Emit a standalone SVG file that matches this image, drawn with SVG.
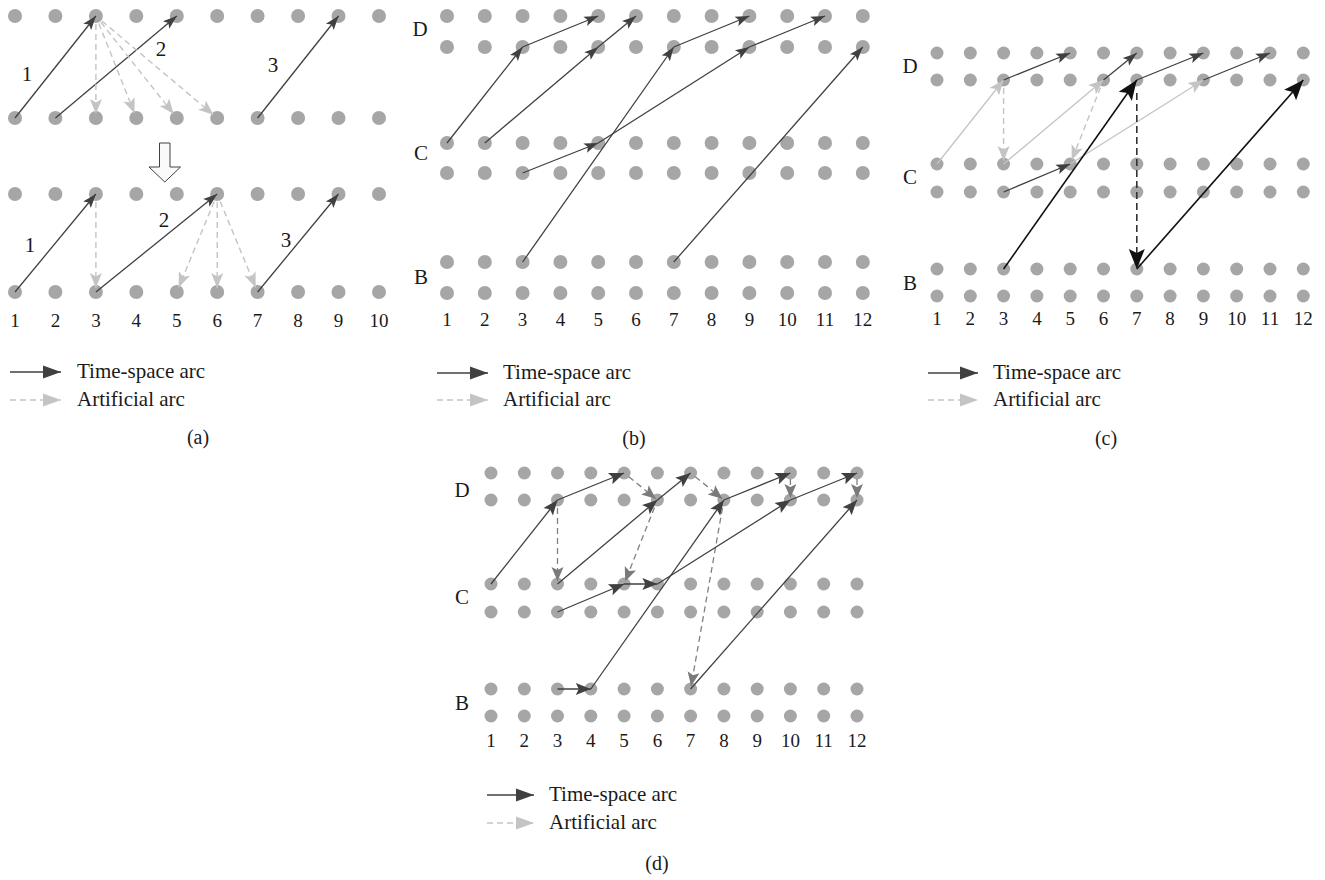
<svg xmlns="http://www.w3.org/2000/svg" width="1325" height="880" viewBox="0 0 1325 880">
<style>
text{font-family:"Liberation Serif","Times New Roman",serif;fill:#1a1a1a}
.num{font-size:19px;text-anchor:middle}
.lab{font-size:21px;text-anchor:middle}
.leg{font-size:21px}
.cap{font-size:20px;text-anchor:middle}
.dot{fill:#a6a6a6}
.ts{stroke:#404040;stroke-width:1.3;fill:none}
.lt{stroke:#c4c4c4;stroke-width:1.3;fill:none}
.ad{stroke:#c4c4c4;stroke-width:1.4;stroke-dasharray:6 4;fill:none}
.md{stroke:#808080;stroke-width:1.3;stroke-dasharray:6 4;fill:none}
.bk{stroke:#111;stroke-width:1.6;fill:none}
.bkd{stroke:#333;stroke-width:1.6;stroke-dasharray:7 4;fill:none}
</style>
<defs>
<marker id="mD" markerUnits="userSpaceOnUse" markerWidth="15" markerHeight="11" refX="14" refY="5" orient="auto" overflow="visible"><path d="M0,0 L14,5 L0,10 L3,5 z" fill="#404040"/></marker>
<marker id="mDd" markerUnits="userSpaceOnUse" markerWidth="16" markerHeight="13" refX="15" refY="6" orient="auto" overflow="visible"><path d="M0,0 L15,6 L0,12 L3,6 z" fill="#404040"/></marker>
<marker id="mL" markerUnits="userSpaceOnUse" markerWidth="16" markerHeight="13" refX="15" refY="6" orient="auto" overflow="visible"><path d="M0,0 L15,6 L0,12 L3.5,6 z" fill="#c4c4c4"/></marker>
<marker id="mK" markerUnits="userSpaceOnUse" markerWidth="21" markerHeight="17" refX="20" refY="8" orient="auto" overflow="visible"><path d="M0,0 L20,8 L0,16 L4,8 z" fill="#111"/></marker>
<marker id="mM" markerUnits="userSpaceOnUse" markerWidth="15" markerHeight="13" refX="14" refY="6" orient="auto" overflow="visible"><path d="M0,0 L14,6 L0,12 L3,6 z" fill="#7a7a7a"/></marker>
<marker id="mLegD" markerUnits="userSpaceOnUse" markerWidth="19" markerHeight="14" refX="18" refY="6.5" orient="auto" overflow="visible"><path d="M0,0 L18,6.5 L0,13 z" fill="#404040"/></marker>
<marker id="mLegL" markerUnits="userSpaceOnUse" markerWidth="19" markerHeight="14" refX="18" refY="6.5" orient="auto" overflow="visible"><path d="M0,0 L18,6.5 L0,13 z" fill="#c4c4c4"/></marker>
</defs>

<!-- ================= Panel (a) ================= -->
<g id="panel-a">
<g id="a-nodes-top1" class="dot">
<circle cx="15" cy="16" r="7"/><circle cx="55.4" cy="16" r="7"/><circle cx="95.9" cy="16" r="7"/><circle cx="136.3" cy="16" r="7"/><circle cx="176.8" cy="16" r="7"/><circle cx="217.2" cy="16" r="7"/><circle cx="257.6" cy="16" r="7"/><circle cx="298.1" cy="16" r="7"/><circle cx="338.5" cy="16" r="7"/><circle cx="379" cy="16" r="7"/>
</g>
<g id="a-nodes-bot1" class="dot">
<circle cx="15" cy="118" r="7"/><circle cx="55.4" cy="118" r="7"/><circle cx="95.9" cy="118" r="7"/><circle cx="136.3" cy="118" r="7"/><circle cx="176.8" cy="118" r="7"/><circle cx="217.2" cy="118" r="7"/><circle cx="257.6" cy="118" r="7"/><circle cx="298.1" cy="118" r="7"/><circle cx="338.5" cy="118" r="7"/><circle cx="379" cy="118" r="7"/>
</g>
<g id="a-nodes-top2" class="dot">
<circle cx="15" cy="194" r="7"/><circle cx="55.4" cy="194" r="7"/><circle cx="95.9" cy="194" r="7"/><circle cx="136.3" cy="194" r="7"/><circle cx="176.8" cy="194" r="7"/><circle cx="217.2" cy="194" r="7"/><circle cx="257.6" cy="194" r="7"/><circle cx="298.1" cy="194" r="7"/><circle cx="338.5" cy="194" r="7"/><circle cx="379" cy="194" r="7"/>
</g>
<g id="a-nodes-bot2" class="dot">
<circle cx="15" cy="292" r="7"/><circle cx="55.4" cy="292" r="7"/><circle cx="95.9" cy="292" r="7"/><circle cx="136.3" cy="292" r="7"/><circle cx="176.8" cy="292" r="7"/><circle cx="217.2" cy="292" r="7"/><circle cx="257.6" cy="292" r="7"/><circle cx="298.1" cy="292" r="7"/><circle cx="338.5" cy="292" r="7"/><circle cx="379" cy="292" r="7"/>
</g>
<g id="a-transform-arrow">
<polygon points="159.5,143 170,143 170,167 180.5,167 164.8,182 149,167 159.5,167" fill="#fafafa" stroke="#404040" stroke-width="1"/>
</g>
<g id="a-labels">
<text class="lab" x="27" y="81">1</text><text class="lab" x="161" y="56">2</text><text class="lab" x="273" y="72">3</text>
<text class="lab" x="30" y="252">1</text><text class="lab" x="164" y="227">2</text><text class="lab" x="286" y="247">3</text>
<text class="num" x="15" y="327">1</text><text class="num" x="55.4" y="327">2</text><text class="num" x="95.9" y="327">3</text><text class="num" x="136.3" y="327">4</text><text class="num" x="176.8" y="327">5</text><text class="num" x="217.2" y="327">6</text><text class="num" x="257.6" y="327">7</text><text class="num" x="298.1" y="327">8</text><text class="num" x="338.5" y="327">9</text><text class="num" x="379" y="327">10</text>
</g>
</g>

<!-- ================= Panel (b) ================= -->
<g id="panel-b">
<g id="b-nodes" class="dot">
<g id="b-D1"><circle cx="447" cy="16" r="7"/><circle cx="484.8" cy="16" r="7"/><circle cx="522.6" cy="16" r="7"/><circle cx="560.4" cy="16" r="7"/><circle cx="598.2" cy="16" r="7"/><circle cx="636" cy="16" r="7"/><circle cx="673.8" cy="16" r="7"/><circle cx="711.6" cy="16" r="7"/><circle cx="749.4" cy="16" r="7"/><circle cx="787.2" cy="16" r="7"/><circle cx="825" cy="16" r="7"/><circle cx="862.8" cy="16" r="7"/></g>
<g id="b-D2"><circle cx="447" cy="47" r="7"/><circle cx="484.8" cy="47" r="7"/><circle cx="522.6" cy="47" r="7"/><circle cx="560.4" cy="47" r="7"/><circle cx="598.2" cy="47" r="7"/><circle cx="636" cy="47" r="7"/><circle cx="673.8" cy="47" r="7"/><circle cx="711.6" cy="47" r="7"/><circle cx="749.4" cy="47" r="7"/><circle cx="787.2" cy="47" r="7"/><circle cx="825" cy="47" r="7"/><circle cx="862.8" cy="47" r="7"/></g>
<g id="b-C1"><circle cx="447" cy="143" r="7"/><circle cx="484.8" cy="143" r="7"/><circle cx="522.6" cy="143" r="7"/><circle cx="560.4" cy="143" r="7"/><circle cx="598.2" cy="143" r="7"/><circle cx="636" cy="143" r="7"/><circle cx="673.8" cy="143" r="7"/><circle cx="711.6" cy="143" r="7"/><circle cx="749.4" cy="143" r="7"/><circle cx="787.2" cy="143" r="7"/><circle cx="825" cy="143" r="7"/><circle cx="862.8" cy="143" r="7"/></g>
<g id="b-C2"><circle cx="447" cy="173" r="7"/><circle cx="484.8" cy="173" r="7"/><circle cx="522.6" cy="173" r="7"/><circle cx="560.4" cy="173" r="7"/><circle cx="598.2" cy="173" r="7"/><circle cx="636" cy="173" r="7"/><circle cx="673.8" cy="173" r="7"/><circle cx="711.6" cy="173" r="7"/><circle cx="749.4" cy="173" r="7"/><circle cx="787.2" cy="173" r="7"/><circle cx="825" cy="173" r="7"/><circle cx="862.8" cy="173" r="7"/></g>
<g id="b-B1"><circle cx="447" cy="262" r="7"/><circle cx="484.8" cy="262" r="7"/><circle cx="522.6" cy="262" r="7"/><circle cx="560.4" cy="262" r="7"/><circle cx="598.2" cy="262" r="7"/><circle cx="636" cy="262" r="7"/><circle cx="673.8" cy="262" r="7"/><circle cx="711.6" cy="262" r="7"/><circle cx="749.4" cy="262" r="7"/><circle cx="787.2" cy="262" r="7"/><circle cx="825" cy="262" r="7"/><circle cx="862.8" cy="262" r="7"/></g>
<g id="b-B2"><circle cx="447" cy="293" r="7"/><circle cx="484.8" cy="293" r="7"/><circle cx="522.6" cy="293" r="7"/><circle cx="560.4" cy="293" r="7"/><circle cx="598.2" cy="293" r="7"/><circle cx="636" cy="293" r="7"/><circle cx="673.8" cy="293" r="7"/><circle cx="711.6" cy="293" r="7"/><circle cx="749.4" cy="293" r="7"/><circle cx="787.2" cy="293" r="7"/><circle cx="825" cy="293" r="7"/><circle cx="862.8" cy="293" r="7"/></g>
</g>
<g id="b-labels">
<text class="lab" x="420" y="36">D</text><text class="lab" x="421" y="160">C</text><text class="lab" x="421" y="284">B</text>
<text class="num" x="447" y="326">1</text><text class="num" x="484.8" y="326">2</text><text class="num" x="522.6" y="326">3</text><text class="num" x="560.4" y="326">4</text><text class="num" x="598.2" y="326">5</text><text class="num" x="636" y="326">6</text><text class="num" x="673.8" y="326">7</text><text class="num" x="711.6" y="326">8</text><text class="num" x="749.4" y="326">9</text><text class="num" x="787.2" y="326">10</text><text class="num" x="825" y="326">11</text><text class="num" x="862.8" y="326">12</text>
</g>
</g>

<!-- ================= Panel (c) ================= -->
<g id="panel-c">
<g id="c-nodes" class="dot">
<g id="c-D1"><circle cx="937" cy="53" r="6.5"/><circle cx="970.3" cy="53" r="6.5"/><circle cx="1003.6" cy="53" r="6.5"/><circle cx="1036.9" cy="53" r="6.5"/><circle cx="1070.2" cy="53" r="6.5"/><circle cx="1103.5" cy="53" r="6.5"/><circle cx="1136.8" cy="53" r="6.5"/><circle cx="1170.1" cy="53" r="6.5"/><circle cx="1203.4" cy="53" r="6.5"/><circle cx="1236.7" cy="53" r="6.5"/><circle cx="1270" cy="53" r="6.5"/><circle cx="1303.3" cy="53" r="6.5"/></g>
<g id="c-D2"><circle cx="937" cy="80" r="6.5"/><circle cx="970.3" cy="80" r="6.5"/><circle cx="1003.6" cy="80" r="6.5"/><circle cx="1036.9" cy="80" r="6.5"/><circle cx="1070.2" cy="80" r="6.5"/><circle cx="1103.5" cy="80" r="6.5"/><circle cx="1136.8" cy="80" r="6.5"/><circle cx="1170.1" cy="80" r="6.5"/><circle cx="1203.4" cy="80" r="6.5"/><circle cx="1236.7" cy="80" r="6.5"/><circle cx="1270" cy="80" r="6.5"/><circle cx="1303.3" cy="80" r="6.5"/></g>
<g id="c-C1"><circle cx="937" cy="164" r="6.5"/><circle cx="970.3" cy="164" r="6.5"/><circle cx="1003.6" cy="164" r="6.5"/><circle cx="1036.9" cy="164" r="6.5"/><circle cx="1070.2" cy="164" r="6.5"/><circle cx="1103.5" cy="164" r="6.5"/><circle cx="1136.8" cy="164" r="6.5"/><circle cx="1170.1" cy="164" r="6.5"/><circle cx="1203.4" cy="164" r="6.5"/><circle cx="1236.7" cy="164" r="6.5"/><circle cx="1270" cy="164" r="6.5"/><circle cx="1303.3" cy="164" r="6.5"/></g>
<g id="c-C2"><circle cx="937" cy="192" r="6.5"/><circle cx="970.3" cy="192" r="6.5"/><circle cx="1003.6" cy="192" r="6.5"/><circle cx="1036.9" cy="192" r="6.5"/><circle cx="1070.2" cy="192" r="6.5"/><circle cx="1103.5" cy="192" r="6.5"/><circle cx="1136.8" cy="192" r="6.5"/><circle cx="1170.1" cy="192" r="6.5"/><circle cx="1203.4" cy="192" r="6.5"/><circle cx="1236.7" cy="192" r="6.5"/><circle cx="1270" cy="192" r="6.5"/><circle cx="1303.3" cy="192" r="6.5"/></g>
<g id="c-B1"><circle cx="937" cy="269" r="6.5"/><circle cx="970.3" cy="269" r="6.5"/><circle cx="1003.6" cy="269" r="6.5"/><circle cx="1036.9" cy="269" r="6.5"/><circle cx="1070.2" cy="269" r="6.5"/><circle cx="1103.5" cy="269" r="6.5"/><circle cx="1136.8" cy="269" r="6.5"/><circle cx="1170.1" cy="269" r="6.5"/><circle cx="1203.4" cy="269" r="6.5"/><circle cx="1236.7" cy="269" r="6.5"/><circle cx="1270" cy="269" r="6.5"/><circle cx="1303.3" cy="269" r="6.5"/></g>
<g id="c-B2"><circle cx="937" cy="296" r="6.5"/><circle cx="970.3" cy="296" r="6.5"/><circle cx="1003.6" cy="296" r="6.5"/><circle cx="1036.9" cy="296" r="6.5"/><circle cx="1070.2" cy="296" r="6.5"/><circle cx="1103.5" cy="296" r="6.5"/><circle cx="1136.8" cy="296" r="6.5"/><circle cx="1170.1" cy="296" r="6.5"/><circle cx="1203.4" cy="296" r="6.5"/><circle cx="1236.7" cy="296" r="6.5"/><circle cx="1270" cy="296" r="6.5"/><circle cx="1303.3" cy="296" r="6.5"/></g>
</g>
<g id="c-labels">
<text class="lab" x="910" y="73">D</text><text class="lab" x="910" y="184">C</text><text class="lab" x="910" y="290">B</text>
<text class="num" x="937" y="325">1</text><text class="num" x="970.3" y="325">2</text><text class="num" x="1003.6" y="325">3</text><text class="num" x="1036.9" y="325">4</text><text class="num" x="1070.2" y="325">5</text><text class="num" x="1103.5" y="325">6</text><text class="num" x="1136.8" y="325">7</text><text class="num" x="1170.1" y="325">8</text><text class="num" x="1203.4" y="325">9</text><text class="num" x="1236.7" y="325">10</text><text class="num" x="1270" y="325">11</text><text class="num" x="1303.3" y="325">12</text>
</g>
</g>

<!-- ================= Panel (d) ================= -->
<g id="panel-d">
<g id="d-nodes" class="dot">
<g id="d-D1"><circle cx="491" cy="473" r="6.5"/><circle cx="524.3" cy="473" r="6.5"/><circle cx="557.5" cy="473" r="6.5"/><circle cx="590.8" cy="473" r="6.5"/><circle cx="624.1" cy="473" r="6.5"/><circle cx="657.4" cy="473" r="6.5"/><circle cx="690.6" cy="473" r="6.5"/><circle cx="723.9" cy="473" r="6.5"/><circle cx="757.2" cy="473" r="6.5"/><circle cx="790.4" cy="473" r="6.5"/><circle cx="823.7" cy="473" r="6.5"/><circle cx="857" cy="473" r="6.5"/></g>
<g id="d-D2"><circle cx="491" cy="500" r="6.5"/><circle cx="524.3" cy="500" r="6.5"/><circle cx="557.5" cy="500" r="6.5"/><circle cx="590.8" cy="500" r="6.5"/><circle cx="624.1" cy="500" r="6.5"/><circle cx="657.4" cy="500" r="6.5"/><circle cx="690.6" cy="500" r="6.5"/><circle cx="723.9" cy="500" r="6.5"/><circle cx="757.2" cy="500" r="6.5"/><circle cx="790.4" cy="500" r="6.5"/><circle cx="823.7" cy="500" r="6.5"/><circle cx="857" cy="500" r="6.5"/></g>
<g id="d-C1"><circle cx="491" cy="584" r="6.5"/><circle cx="524.3" cy="584" r="6.5"/><circle cx="557.5" cy="584" r="6.5"/><circle cx="590.8" cy="584" r="6.5"/><circle cx="624.1" cy="584" r="6.5"/><circle cx="657.4" cy="584" r="6.5"/><circle cx="690.6" cy="584" r="6.5"/><circle cx="723.9" cy="584" r="6.5"/><circle cx="757.2" cy="584" r="6.5"/><circle cx="790.4" cy="584" r="6.5"/><circle cx="823.7" cy="584" r="6.5"/><circle cx="857" cy="584" r="6.5"/></g>
<g id="d-C2"><circle cx="491" cy="612" r="6.5"/><circle cx="524.3" cy="612" r="6.5"/><circle cx="557.5" cy="612" r="6.5"/><circle cx="590.8" cy="612" r="6.5"/><circle cx="624.1" cy="612" r="6.5"/><circle cx="657.4" cy="612" r="6.5"/><circle cx="690.6" cy="612" r="6.5"/><circle cx="723.9" cy="612" r="6.5"/><circle cx="757.2" cy="612" r="6.5"/><circle cx="790.4" cy="612" r="6.5"/><circle cx="823.7" cy="612" r="6.5"/><circle cx="857" cy="612" r="6.5"/></g>
<g id="d-B1"><circle cx="491" cy="689" r="6.5"/><circle cx="524.3" cy="689" r="6.5"/><circle cx="557.5" cy="689" r="6.5"/><circle cx="590.8" cy="689" r="6.5"/><circle cx="624.1" cy="689" r="6.5"/><circle cx="657.4" cy="689" r="6.5"/><circle cx="690.6" cy="689" r="6.5"/><circle cx="723.9" cy="689" r="6.5"/><circle cx="757.2" cy="689" r="6.5"/><circle cx="790.4" cy="689" r="6.5"/><circle cx="823.7" cy="689" r="6.5"/><circle cx="857" cy="689" r="6.5"/></g>
<g id="d-B2"><circle cx="491" cy="716" r="6.5"/><circle cx="524.3" cy="716" r="6.5"/><circle cx="557.5" cy="716" r="6.5"/><circle cx="590.8" cy="716" r="6.5"/><circle cx="624.1" cy="716" r="6.5"/><circle cx="657.4" cy="716" r="6.5"/><circle cx="690.6" cy="716" r="6.5"/><circle cx="723.9" cy="716" r="6.5"/><circle cx="757.2" cy="716" r="6.5"/><circle cx="790.4" cy="716" r="6.5"/><circle cx="823.7" cy="716" r="6.5"/><circle cx="857" cy="716" r="6.5"/></g>
</g>
<g id="d-labels">
<text class="lab" x="462" y="497">D</text><text class="lab" x="462" y="604">C</text><text class="lab" x="462" y="710">B</text>
<text class="num" x="491" y="747">1</text><text class="num" x="524.3" y="747">2</text><text class="num" x="557.5" y="747">3</text><text class="num" x="590.8" y="747">4</text><text class="num" x="624.1" y="747">5</text><text class="num" x="657.4" y="747">6</text><text class="num" x="690.6" y="747">7</text><text class="num" x="723.9" y="747">8</text><text class="num" x="757.2" y="747">9</text><text class="num" x="790.4" y="747">10</text><text class="num" x="823.7" y="747">11</text><text class="num" x="857" y="747">12</text>
</g>
</g>

<!-- ================= Connectors ================= -->
<g id="connectors">
<g id="a-arcs">
<line class="ts" x1="15" y1="118" x2="95.9" y2="16" marker-end="url(#mD)"/>
<line class="ts" x1="55.4" y1="118" x2="176.8" y2="16" marker-end="url(#mD)"/>
<line class="ts" x1="257.6" y1="118" x2="338.5" y2="16" marker-end="url(#mD)"/>
<line class="ad" x1="95.9" y1="24" x2="95.9" y2="114" marker-end="url(#mL)"/>
<line class="ad" x1="98.8" y1="23.4" x2="134.5" y2="113.3" marker-end="url(#mL)"/>
<line class="ad" x1="100.9" y1="22.3" x2="173.7" y2="114.1" marker-end="url(#mL)"/>
<line class="ad" x1="102" y1="21.1" x2="213.4" y2="114.8" marker-end="url(#mL)"/>
<line class="ts" x1="15" y1="292" x2="95.9" y2="194" marker-end="url(#mD)"/>
<line class="ts" x1="95.9" y1="292" x2="217.2" y2="194" marker-end="url(#mD)"/>
<line class="ts" x1="257.6" y1="292" x2="338.5" y2="194" marker-end="url(#mD)"/>
<line class="ad" x1="95.9" y1="202" x2="95.9" y2="288" marker-end="url(#mL)"/>
<line class="ad" x1="214.2" y1="201.4" x2="178.7" y2="287.4" marker-end="url(#mL)"/>
<line class="ad" x1="217.2" y1="202" x2="217.2" y2="288" marker-end="url(#mL)"/>
<line class="ad" x1="220.2" y1="201.4" x2="255.7" y2="287.4" marker-end="url(#mL)"/>
</g>
<g id="b-arcs">
<line class="ts" x1="447" y1="143" x2="522.6" y2="47" marker-end="url(#mD)"/>
<line class="ts" x1="522.6" y1="47" x2="598.2" y2="16" marker-end="url(#mD)"/>
<line class="ts" x1="484.8" y1="143" x2="598.2" y2="47" marker-end="url(#mD)"/>
<line class="ts" x1="598.2" y1="47" x2="636" y2="16" marker-end="url(#mD)"/>
<line class="ts" x1="522.6" y1="173" x2="598.2" y2="143" marker-end="url(#mD)"/>
<line class="ts" x1="598.2" y1="143" x2="749.4" y2="47" marker-end="url(#mD)"/>
<line class="ts" x1="749.4" y1="47" x2="825" y2="16" marker-end="url(#mD)"/>
<line class="ts" x1="522.6" y1="262" x2="673.8" y2="47" marker-end="url(#mD)"/>
<line class="ts" x1="673.8" y1="47" x2="749.4" y2="16" marker-end="url(#mD)"/>
<line class="ts" x1="673.8" y1="262" x2="862.8" y2="47" marker-end="url(#mD)"/>
</g>
<g id="c-arcs">
<line class="lt" x1="937" y1="164" x2="1003.6" y2="80" marker-end="url(#mL)"/>
<line class="lt" x1="1003.6" y1="164" x2="1103.5" y2="80" marker-end="url(#mL)"/>
<line class="lt" x1="1070.2" y1="164" x2="1203.4" y2="80" marker-end="url(#mL)"/>
<line class="ad" x1="1003.6" y1="88" x2="1003.6" y2="161" marker-end="url(#mL)"/>
<line class="ad" x1="1100.5" y1="87.4" x2="1071.7" y2="160.3" marker-end="url(#mL)"/>
<line class="ts" x1="1003.6" y1="80" x2="1070.2" y2="53" marker-end="url(#mD)"/>
<line class="ts" x1="1103.5" y1="80" x2="1136.8" y2="53" marker-end="url(#mD)"/>
<line class="ts" x1="1136.8" y1="80" x2="1203.4" y2="53" marker-end="url(#mD)"/>
<line class="ts" x1="1203.4" y1="80" x2="1270" y2="53" marker-end="url(#mD)"/>
<line class="ts" x1="1003.6" y1="192" x2="1070.2" y2="164" marker-end="url(#mD)"/>
<line class="bk" x1="1003.6" y1="269" x2="1136.8" y2="80" marker-end="url(#mK)"/>
<line class="bk" x1="1136.8" y1="269" x2="1303.3" y2="80" marker-end="url(#mK)"/>
<line class="bkd" x1="1136.8" y1="93" x2="1136.8" y2="269" marker-end="url(#mK)"/>
</g>
<g id="d-arcs">
<line class="md" x1="557.5" y1="508" x2="557.5" y2="581" marker-end="url(#mM)"/>
<line class="md" x1="628.8" y1="476.8" x2="655.8" y2="498.7" marker-end="url(#mM)"/>
<line class="md" x1="695.3" y1="476.8" x2="722.3" y2="498.7" marker-end="url(#mM)"/>
<line class="md" x1="790.4" y1="479" x2="790.4" y2="498" marker-end="url(#mM)"/>
<line class="md" x1="857" y1="479" x2="857" y2="498" marker-end="url(#mM)"/>
<line class="md" x1="654.5" y1="507.4" x2="625.2" y2="581.2" marker-end="url(#mM)"/>
<line class="md" x1="722.5" y1="507.9" x2="691.1" y2="686" marker-end="url(#mM)"/>
<line class="ts" x1="491" y1="584" x2="557.5" y2="500" marker-end="url(#mDd)"/>
<line class="ts" x1="557.5" y1="500" x2="624.1" y2="473" marker-end="url(#mDd)"/>
<line class="ts" x1="557.5" y1="584" x2="657.4" y2="500" marker-end="url(#mDd)"/>
<line class="ts" x1="657.4" y1="500" x2="690.6" y2="473" marker-end="url(#mDd)"/>
<line class="ts" x1="557.5" y1="612" x2="624.1" y2="584" marker-end="url(#mDd)"/>
<line class="ts" x1="624.1" y1="584" x2="657.4" y2="584" marker-end="url(#mDd)"/>
<line class="ts" x1="657.4" y1="584" x2="790.4" y2="500" marker-end="url(#mDd)"/>
<line class="ts" x1="723.9" y1="500" x2="790.4" y2="473" marker-end="url(#mDd)"/>
<line class="ts" x1="790.4" y1="500" x2="857" y2="473" marker-end="url(#mDd)"/>
<line class="ts" x1="557.5" y1="689" x2="590.8" y2="689" marker-end="url(#mDd)"/>
<line class="ts" x1="590.8" y1="689" x2="723.9" y2="500" marker-end="url(#mDd)"/>
<line class="ts" x1="690.6" y1="689" x2="857" y2="500" marker-end="url(#mDd)"/>
</g>
</g>

<!-- ================= Legends ================= -->
<g id="legend-a">
<line class="ts" x1="10" y1="372" x2="61" y2="372" marker-end="url(#mLegD)"/>
<text class="leg" x="77" y="378">Time-space arc</text>
<line class="ad" x1="10" y1="400" x2="61" y2="400" marker-end="url(#mLegL)"/>
<text class="leg" x="77" y="406">Artificial arc</text>
<text class="cap" x="198" y="444">(a)</text>
</g>
<g id="legend-b">
<line class="ts" x1="437" y1="373" x2="488" y2="373" marker-end="url(#mLegD)"/>
<text class="leg" x="503" y="379">Time-space arc</text>
<line class="ad" x1="437" y1="400" x2="488" y2="400" marker-end="url(#mLegL)"/>
<text class="leg" x="503" y="406">Artificial arc</text>
<text class="cap" x="634" y="445">(b)</text>
</g>
<g id="legend-c">
<line class="ts" x1="928" y1="373" x2="978" y2="373" marker-end="url(#mLegD)"/>
<text class="leg" x="993" y="379">Time-space arc</text>
<line class="ad" x1="928" y1="400" x2="978" y2="400" marker-end="url(#mLegL)"/>
<text class="leg" x="993" y="406">Artificial arc</text>
<text class="cap" x="1106" y="445">(c)</text>
</g>
<g id="legend-d">
<line class="ts" x1="487" y1="795" x2="534" y2="795" marker-end="url(#mLegD)"/>
<text class="leg" x="549" y="801">Time-space arc</text>
<line class="ad" x1="487" y1="823" x2="534" y2="823" marker-end="url(#mLegL)"/>
<text class="leg" x="549" y="829">Artificial arc</text>
<text class="cap" x="657" y="870">(d)</text>
</g>
</svg>
